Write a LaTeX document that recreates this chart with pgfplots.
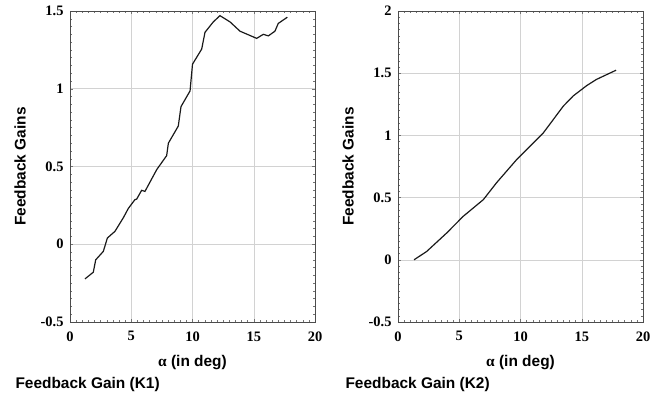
\documentclass[border=0pt]{standalone}
\usepackage{pgfplots}
\pgfplotsset{compat=1.18}
\usepackage{fontspec}
\setmainfont{Liberation Serif}
\newfontfamily\arialfont{Liberation Sans}
\begin{document}
\begin{tikzpicture}[x=1bp,y=1bp]
\pgfplotsset{
  every axis/.append style={
    scale only axis, width=245bp, height=311bp,
    xmin=0, xmax=20, xtick={0,5,...,20},
    minor x tick num=9, minor y tick num=9,
    grid=major, major grid style={gray!35, line width=0.5pt},
    axis line style={black!70, line width=0.6pt},
    tick style={black!55, line width=0.4pt},
    major tick length=3bp, minor tick length=1.8bp,
    tick align=inside,
    xtick pos=both, ytick pos=both,
    ticklabel style={font=\fontsize{14.5}{15}\selectfont\bfseries},
    /pgf/number format/assume math mode=true,
    xticklabel style={yshift=-6bp},
    yticklabel style={xshift=-3bp},
    xlabel={\arialfont\bfseries\fontsize{15.5}{16}\selectfont {\rmfamily α} (in deg)},
    ylabel={\arialfont\bfseries\fontsize{15.5}{16}\selectfont Feedback Gains},
    xlabel style={yshift=-7bp},
    ylabel style={yshift=8bp},
  }
}
\begin{axis}[at={(70bp,76bp)}, anchor=south west,
  ymin=-0.5, ymax=1.5, ytick={-0.5,0,0.5,1,1.5},
  yticklabels={-0.5,0,0.5,1,1.5}]
\addplot[black!90, line width=1.2pt] coordinates {
(1.22,-0.223) (1.9,-0.18) (2.1,-0.1) (2.72,-0.046) (3.05,0.04) (3.67,0.083)
(4.35,0.17) (4.76,0.23) (5.3,0.287) (5.44,0.29) (5.85,0.347) (6.12,0.34)
(7.08,0.48) (7.89,0.57) (8.03,0.65) (8.84,0.76) (9.06,0.885) (9.8,0.986)
(10.0,1.158) (10.75,1.255) (11.02,1.363) (11.7,1.43) (12.24,1.47) (13.06,1.43)
(13.88,1.37) (15.24,1.324) (15.78,1.35) (16.19,1.34) (16.73,1.37) (17.0,1.42)
(17.74,1.46)
};
\end{axis}
\begin{axis}[at={(398bp,76bp)}, anchor=south west,
  ymin=-0.5, ymax=2, ytick={-0.5,0,0.5,1,1.5,2},
  yticklabels={-0.5,0,0.5,1,1.5,2}]
\addplot[black!90, line width=1.2pt] coordinates {
(1.31,0.0) (2.34,0.067) (3.97,0.215) (5.33,0.35) (6.97,0.484) (8.05,0.62)
(9.69,0.806) (11.86,1.02) (13.5,1.236) (14.3,1.317) (15.4,1.40) (16.2,1.45)
(17.8,1.524)
};
\end{axis}
\node[anchor=west, font=\arialfont\bfseries\fontsize{15.5}{16}\selectfont] at (12bp,13bp) {Feedback Gain (K1)};
\node[anchor=west, font=\arialfont\bfseries\fontsize{15.5}{16}\selectfont] at (342bp,13bp) {Feedback Gain (K2)};
\pgfresetboundingbox
\path[use as bounding box] (0bp,0bp) rectangle (662bp,398bp);
\end{tikzpicture}
\end{document}
